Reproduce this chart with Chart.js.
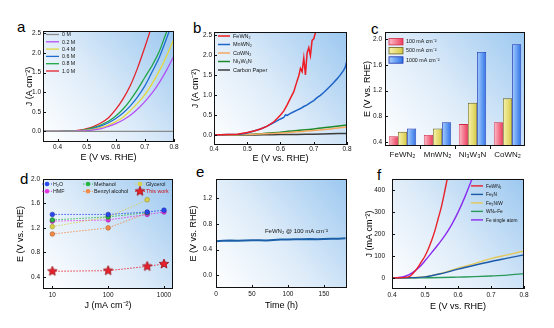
<!DOCTYPE html>
<html>
<head>
<meta charset="utf-8">
<script src="https://cdn.jsdelivr.net/npm/chart.js@4.4.0/dist/chart.umd.min.js"></script>
<style>
  body { margin: 0; background: #fff; }
  #fig { position: relative; width: 554px; height: 328px; overflow: hidden; font-family: "Liberation Sans", Arial, sans-serif; }
  #fig canvas { position: absolute; }
  .tag { position: absolute; font-size: 15px; line-height: 15px; color: #000; }
</style>
</head>
<body>
<div id="fig">
  <div class="tag" style="left:17px;top:19px">a</div>
  <div class="tag" style="left:193px;top:20px">b</div>
  <div class="tag" style="left:371px;top:21px">c</div>
  <div class="tag" style="left:20px;top:171px">d</div>
  <div class="tag" style="left:196px;top:164px">e</div>
  <div class="tag" style="left:377px;top:167px">f</div>
  <canvas id="chartA"></canvas>
  <canvas id="chartB"></canvas>
  <canvas id="chartC"></canvas>
  <canvas id="chartD"></canvas>
  <canvas id="chartE"></canvas>
  <canvas id="chartF"></canvas>
</div>
<script>
// ---- panel a: concentration series ----
const aE = [0.35, 0.40, 0.45, 0.475, 0.50, 0.525, 0.55, 0.575, 0.60, 0.625, 0.65, 0.675, 0.70, 0.725, 0.75, 0.775, 0.80];
const a0M = [0, 0, 0, 0, 0, 0, 0, 0, 0, 0, 0, 0, 0, 0, 0, 0, 0];
const a02M = [0, 0, 0.003, 0.01, 0.02, 0.04, 0.07, 0.13, 0.20, 0.29, 0.41, 0.57, 0.76, 0.98, 1.25, 1.57, 1.93];
const a04M = [0, 0, 0.005, 0.015, 0.03, 0.06, 0.10, 0.16, 0.25, 0.36, 0.53, 0.72, 0.94, 1.22, 1.55, 1.93, 2.36];
const a06M = [0, 0, 0.01, 0.02, 0.04, 0.08, 0.14, 0.22, 0.33, 0.47, 0.65, 0.88, 1.16, 1.52, 1.90, 2.38, 2.90];
const a08M = [0, 0, 0.01, 0.02, 0.05, 0.10, 0.17, 0.26, 0.39, 0.57, 0.80, 1.07, 1.38, 1.68, 2.05, 2.55, 3.00];
const a10M = [0, 0, 0.01, 0.03, 0.07, 0.13, 0.22, 0.35, 0.56, 0.83, 1.17, 1.62, 2.15, 2.72, 3.30, 3.90, 4.50];
const aXTicks = [0.4, 0.5, 0.6, 0.7, 0.8];
const aYTicks = [0, 0.5, 1.0, 1.5, 2.0, 2.5];

// ---- panel b: catalysts ----
const bRedE = [0.40, 0.44, 0.47, 0.50, 0.52, 0.54, 0.56, 0.58, 0.59, 0.60, 0.61, 0.62, 0.63, 0.64, 0.645, 0.65, 0.655, 0.66, 0.665, 0.67, 0.675, 0.68, 0.685, 0.69, 0.695, 0.70, 0.705, 0.71, 0.72];
const bFeWN = [0.00, 0.01, 0.02, 0.06, 0.10, 0.15, 0.22, 0.33, 0.41, 0.50, 0.60, 0.75, 0.92, 1.08, 1.22, 1.35, 1.48, 1.66, 1.58, 1.92, 1.50, 2.05, 2.18, 1.98, 2.36, 2.40, 2.55, 2.62, 2.90];
const bBlueE = [0.40, 0.44, 0.48, 0.50, 0.52, 0.54, 0.56, 0.58, 0.60, 0.61, 0.615, 0.62, 0.63, 0.64, 0.65, 0.66, 0.67, 0.68, 0.69, 0.70, 0.71, 0.72, 0.73, 0.74, 0.75, 0.76, 0.77, 0.78, 0.79, 0.795, 0.80];
const bMnWN = [0.00, 0.01, 0.02, 0.05, 0.10, 0.15, 0.22, 0.31, 0.40, 0.44, 0.50, 0.49, 0.54, 0.58, 0.62, 0.66, 0.71, 0.75, 0.81, 0.86, 0.93, 0.99, 1.06, 1.14, 1.22, 1.31, 1.40, 1.50, 1.62, 1.70, 1.86];
const bE = [0.40, 0.45, 0.50, 0.55, 0.60, 0.65, 0.70, 0.75, 0.80];
const bCoWN = [0, 0, 0.01, 0.03, 0.05, 0.08, 0.11, 0.15, 0.20];
const bNiWN = [0, 0, 0.01, 0.04, 0.07, 0.11, 0.15, 0.20, 0.25];
const bPaper = [0, 0, 0, 0.005, 0.01, 0.015, 0.02, 0.03, 0.04];
const bXTicks = [0.4, 0.5, 0.6, 0.7, 0.8];
const bYTicks = [0, 0.5, 1.0, 1.5, 2.0, 2.5];

// ---- panel c: potentials at fixed current ----
const cCats = ['FeWN₂', 'MnWN₂', 'Ni₃W₃N', 'CoWN₂'];
const c100 = [0.49, 0.51, 0.68, 0.71];
const c500 = [0.56, 0.61, 1.01, 1.08];
const c1000 = [0.61, 0.71, 1.80, 1.92];
const cYTicks = [0.4, 0.8, 1.2, 1.6, 2.0];

// ---- panel d: comparison with other oxidations ----
const dJ = [10, 100, 500, 1000];
const dH2O = [1.42, 1.42, 1.46, 1.49];
const dMethanol = [1.33, 1.38, 1.45];
const dGlycerol = [1.22, 1.38, 1.66];
const dHMF = [1.31, 1.33, 1.42, 1.46];
const dBenzyl = [1.10, 1.20, 1.44];
const dThisWork = [0.49, 0.50, 0.57, 0.61];
const dXTicks = [10, 100, 1000];
const dYTicks = [0.4, 0.8, 1.2, 1.6, 2.0];

// ---- panel e: stability ----
const eT = [0, 10, 20, 30, 40, 50, 60, 70, 80, 90, 100, 110, 120, 130, 140, 150, 160, 170, 180];
const eV = [0.53, 0.535, 0.54, 0.535, 0.54, 0.545, 0.545, 0.54, 0.55, 0.555, 0.555, 0.56, 0.56, 0.565, 0.56, 0.565, 0.57, 0.57, 0.575];
const eXTicks = [0, 50, 100, 150];
const eYTicks = [0, 0.4, 0.8, 1.2];

// ---- panel f: reference catalysts ----
const fRedE = [0.40, 0.42, 0.44, 0.45, 0.46, 0.47, 0.48, 0.49, 0.50, 0.51, 0.52, 0.53, 0.54, 0.55, 0.56, 0.57];
const fFeWN = [0, 1, 3, 5, 15, 32, 52, 75, 100, 132, 170, 215, 270, 325, 395, 470];
const fSaE = [0.40, 0.42, 0.44, 0.46, 0.48, 0.50, 0.52, 0.54, 0.56, 0.58, 0.60, 0.62, 0.64, 0.66];
const fSingle = [0, 2, 8, 22, 45, 78, 115, 152, 192, 240, 298, 365, 440, 520];
const fE = [0.40, 0.45, 0.50, 0.55, 0.60, 0.65, 0.70, 0.75, 0.80];
const fFe2NW = [0, 1, 6, 22, 45, 65, 88, 105, 123];
const fFe3N = [0, 1, 5, 20, 40, 58, 75, 90, 105];
const fWNFe = [0, 0, 1, 2, 4, 6, 9, 13, 20];
const fXTicks = [0.4, 0.5, 0.6, 0.7, 0.8];
const fYTicks = [0, 100, 200, 300, 400];

const FONT = '"Liberation Sans", Arial, sans-serif';
Chart.defaults.font.family = FONT;
Chart.defaults.font.size = 6.5;
Chart.defaults.color = '#111';
Chart.defaults.animation = false;
Chart.defaults.responsive = false;
Chart.defaults.plugins.legend.display = false;
Chart.defaults.plugins.tooltip.enabled = false;
Chart.defaults.elements.point.radius = 0;

const pts = (xs, ys) => ys.map((y, i) => ({ x: xs[i], y }));
const fmt1 = (v) => Number(v).toFixed(1);

// gradient plot background, black frame and inward ticks
const plotBg = {
  id: 'plotBg',
  beforeDraw(chart) {
    const { ctx, chartArea: a } = chart;
    const g = ctx.createLinearGradient(a.left, a.bottom, a.right, a.top);
    g.addColorStop(0, '#ffffff');
    g.addColorStop(0.45, '#deecf9');
    g.addColorStop(1, '#9cc8f0');
    ctx.save();
    ctx.fillStyle = g;
    ctx.fillRect(a.left, a.top, a.right - a.left, a.bottom - a.top);
    ctx.restore();
  },
  afterDraw(chart) {
    const { ctx, chartArea: a, scales } = chart;
    ctx.save();
    ctx.strokeStyle = '#111';
    ctx.lineWidth = 1;
    ctx.strokeRect(Math.round(a.left) + 0.5, Math.round(a.top) + 0.5,
      Math.round(a.right - a.left) - 1, Math.round(a.bottom - a.top) - 1);
    ctx.beginPath();
    const x = scales.x;
    if (x.type === 'category') {
      for (let i = 1; i < chart.data.labels.length; i++) {
        const px = Math.round(x.getPixelForValue(i - 0.5)) + 0.5;
        ctx.moveTo(px, a.bottom); ctx.lineTo(px, a.bottom + 3);
      }
    } else {
      for (const t of x.ticks) {
        const px = Math.round(x.getPixelForValue(t.value)) + 0.5;
        ctx.moveTo(px, a.bottom); ctx.lineTo(px, a.bottom - 3);
      }
    }
    for (const t of scales.y.ticks) {
      const py = Math.round(scales.y.getPixelForValue(t.value)) + 0.5;
      ctx.moveTo(a.left, py); ctx.lineTo(a.left + 3, py);
    }
    ctx.stroke();
    ctx.restore();
  },
};

// small legend drawn inside the plot area
const miniLegend = {
  id: 'miniLegend',
  afterDraw(chart, args, opts) {
    if (!opts || !opts.rows) return;
    const { ctx, chartArea: a } = chart;
    ctx.save();
    ctx.font = `${opts.size || 5.5}px ${FONT}`;
    ctx.textBaseline = 'middle';
    chart.data.datasets.forEach((ds, i) => {
      const nc = opts.cols.length;
      const x = a.left + opts.cols[i % nc];
      const y = a.top + opts.rows[Math.floor(i / nc)];
      const len = opts.len || 12;
      let tx = x + len + 3;
      if (opts.kind === 'box') {
        const g = ctx.createLinearGradient(x, 0, x + len, 0);
        g.addColorStop(0, ds.light); g.addColorStop(1, ds.dark);
        ctx.fillStyle = g;
        ctx.fillRect(x, y - 3.2, len, 6.4);
        ctx.strokeStyle = ds.borderColor; ctx.lineWidth = 0.8;
        ctx.strokeRect(x, y - 3.2, len, 6.4);
      } else if (opts.kind === 'point') {
        ctx.strokeStyle = ds.borderColor; ctx.lineWidth = 1;
        ctx.setLineDash([1.5, 1.5]);
        ctx.beginPath(); ctx.moveTo(x - 5, y); ctx.lineTo(x + 5, y); ctx.stroke();
        ctx.setLineDash([]);
        if (ds.pointStyle instanceof HTMLCanvasElement) {
          const s = ds.pointStyle;
          ctx.drawImage(s, x - s.width / 2, y - s.height / 2);
        } else {
          ctx.fillStyle = ds.backgroundColor;
          ctx.beginPath(); ctx.arc(x, y, 2.3, 0, Math.PI * 2); ctx.fill();
        }
        tx = x + 6;
      } else {
        ctx.strokeStyle = ds.borderColor; ctx.lineWidth = ds.borderWidth || 1.3;
        ctx.beginPath(); ctx.moveTo(x, y); ctx.lineTo(x + len, y); ctx.stroke();
      }
      ctx.fillStyle = ds.legendText || '#111';
      ctx.fillText(ds.label, tx, y + 0.3);
    });
    ctx.restore();
  },
};

function makeStar(r, fill, stroke) {
  const c = document.createElement('canvas');
  c.width = c.height = Math.ceil(r * 2 + 2);
  const ctx = c.getContext('2d');
  const cx = c.width / 2, cy = c.height / 2;
  ctx.beginPath();
  for (let k = 0; k < 10; k++) {
    const rr = k % 2 ? r * 0.45 : r;
    const ang = -Math.PI / 2 + (k * Math.PI) / 5;
    ctx.lineTo(cx + rr * Math.cos(ang), cy + rr * Math.sin(ang));
  }
  ctx.closePath();
  ctx.fillStyle = fill; ctx.fill();
  ctx.strokeStyle = stroke; ctx.lineWidth = 0.8; ctx.stroke();
  return c;
}

function axis(opts) {
  return Object.assign({
    grid: { display: false, drawTicks: false },
    border: { display: false },
  }, opts);
}

// box = canvas [l, t, r, b], plot = chart area [l, t, r, b]
function panel(id, box, plot, config) {
  const cv = document.getElementById(id);
  cv.width = box[2] - box[0];
  cv.height = box[3] - box[1];
  cv.style.left = box[0] + 'px';
  cv.style.top = box[1] + 'px';
  const o = config.options;
  o.layout = { padding: { top: plot[1] - box[1], right: box[2] - plot[2], left: 0, bottom: 0 } };
  o.scales.x.afterFit = (s) => { s.height = box[3] - plot[3]; };
  o.scales.y.afterFit = (s) => { s.width = plot[0] - box[0]; };
  config.plugins = [plotBg, miniLegend].concat(config.plugins || []);
  return new Chart(cv, config);
}

const titleFont = { size: 9 };
const tickSet = (arr) => (s) => { s.ticks = arr.map((v) => ({ value: v })); };

// ---------- a ----------
panel('chartA', [24, 20, 182, 163], [43, 31, 174, 142], {
  type: 'line',
  data: {
    datasets: [
      { label: '0 M', data: pts(aE, a0M), borderColor: '#8a8a8a', borderWidth: 1.3 },
      { label: '0.2 M', data: pts(aE, a02M), borderColor: '#b550f5', borderWidth: 1.3 },
      { label: '0.4 M', data: pts(aE, a04M), borderColor: '#e2d83c', borderWidth: 1.3 },
      { label: '0.6 M', data: pts(aE, a06M), borderColor: '#1f6cd0', borderWidth: 1.3 },
      { label: '0.8 M', data: pts(aE, a08M), borderColor: '#1fa545', borderWidth: 1.3 },
      { label: '1.0 M', data: pts(aE, a10M), borderColor: '#e4232a', borderWidth: 1.3 },
    ],
  },
  options: {
    datasets: { line: { cubicInterpolationMode: 'monotone' } },
    plugins: { miniLegend: { cols: [3], rows: [3.5, 10.8, 18.1, 25.4, 32.7, 40], len: 13, size: 5.3 } },
    scales: {
      x: axis({ type: 'linear', min: 0.35, max: 0.8, afterBuildTicks: tickSet(aXTicks),
        ticks: { padding: 1, callback: fmt1 },
        title: { display: true, text: 'E (V vs. RHE)', font: titleFont, padding: 0, color: '#000' } }),
      y: axis({ min: -0.27, max: 2.56, afterBuildTicks: tickSet(aYTicks),
        ticks: { padding: 2, callback: fmt1 },
        title: { display: true, text: 'J (A cm⁻²)', font: titleFont, padding: 0, color: '#000' } }),
    },
  },
});

// ---------- b ----------
panel('chartB', [190, 20, 355, 164], [214, 32, 347, 145], {
  type: 'line',
  data: {
    datasets: [
      { label: 'FeWN₂', data: pts(bRedE, bFeWN), borderColor: '#ee1c24', borderWidth: 1.5, tension: 0 },
      { label: 'MnWN₂', data: pts(bBlueE, bMnWN), borderColor: '#1e64c8', borderWidth: 1.5, tension: 0 },
      { label: 'CoWN₂', data: pts(bE, bCoWN), borderColor: '#f5a860', borderWidth: 1.5, tension: 0.3 },
      { label: 'Ni₃W₃N', data: pts(bE, bNiWN), borderColor: '#1c8a2c', borderWidth: 1.5, tension: 0.3 },
      { label: 'Carbon Paper', data: pts(bE, bPaper), borderColor: '#3c3c3c', borderWidth: 1.5, tension: 0.3 },
    ],
  },
  options: {
    plugins: { miniLegend: { cols: [4], rows: [4, 12.5, 21, 29.5, 38], len: 12, size: 5.5 } },
    scales: {
      x: axis({ type: 'linear', min: 0.4, max: 0.8, afterBuildTicks: tickSet(bXTicks),
        ticks: { padding: 0, callback: fmt1 },
        title: { display: true, text: 'E (V vs. RHE)', font: titleFont, padding: 0, color: '#000' } }),
      y: axis({ min: -0.25, max: 2.57, afterBuildTicks: tickSet(bYTicks),
        ticks: { padding: 2, callback: fmt1 },
        title: { display: true, text: 'J (A cm⁻²)', font: titleFont, padding: 0, color: '#000' } }),
    },
  },
});

// ---------- c ----------
const C_CAT_PCT = 0.78;
function barFill(context) {
  const chart = context.chart;
  const ds = chart.data.datasets[context.datasetIndex];
  const x = chart.scales.x;
  if (!x || context.dataIndex === undefined || !(x.width > 0)) return ds.dark;
  const n = chart.data.datasets.length;
  const groupW = (x.width / chart.data.labels.length) * C_CAT_PCT;
  const barW = groupW / n;
  const x0 = x.getPixelForValue(context.dataIndex) - groupW / 2 + context.datasetIndex * barW;
  if (!Number.isFinite(x0) || !Number.isFinite(barW)) return ds.dark;
  const g = chart.ctx.createLinearGradient(x0, 0, x0 + barW, 0);
  g.addColorStop(0, ds.light);
  g.addColorStop(1, ds.dark);
  return g;
}
panel('chartC', [362, 20, 533, 162], [385, 32, 525, 146], {
  type: 'bar',
  data: {
    labels: cCats,
    datasets: [
      { label: '100 mA cm⁻²', data: c100, light: '#fcc0cb', dark: '#ec3d5c', borderColor: '#cf2845' },
      { label: '500 mA cm⁻²', data: c500, light: '#f8f4b0', dark: '#d6c944', borderColor: '#6b6322' },
      { label: '1000 mA cm⁻²', data: c1000, light: '#a6d0ff', dark: '#2f72e6', borderColor: '#1b2fae' },
    ],
  },
  options: {
    datasets: { bar: { categoryPercentage: C_CAT_PCT, barPercentage: 1.0, borderWidth: 0.8, backgroundColor: barFill } },
    plugins: { miniLegend: { kind: 'box', cols: [4], rows: [9.7, 18.7, 28], len: 14, size: 5.3 } },
    scales: {
      x: axis({ type: 'category', ticks: { padding: 4, font: { size: 8 }, color: '#111' } }),
      y: axis({ min: 0.34, max: 2.11, afterBuildTicks: tickSet(cYTicks),
        ticks: { padding: 3, callback: fmt1 },
        title: { display: true, text: 'E (V vs. RHE)', font: titleFont, padding: 0, color: '#000' } }),
    },
  },
});

// ---------- d ----------
const dStar = makeStar(5, '#e8202a', '#9a1018');
const dotted = { borderWidth: 0.9, borderDash: [1.5, 1.5], pointRadius: 2.3, pointBorderWidth: 0.6 };
panel('chartD', [15, 168, 181, 311], [43, 179, 173, 289], {
  type: 'line',
  data: {
    datasets: [
      Object.assign({ label: 'H₂O', data: pts(dJ, dH2O), borderColor: '#2a48f0', backgroundColor: '#2a48f0', pointBorderColor: '#1a2aa0' }, dotted),
      Object.assign({ label: 'Methanol', data: pts(dJ, dMethanol), borderColor: '#28b444', backgroundColor: '#28b444', pointBorderColor: '#187a2a' }, dotted),
      Object.assign({ label: 'Glycerol', data: pts(dJ, dGlycerol), borderColor: '#d8d04a', backgroundColor: '#d8d04a', pointBorderColor: '#9a9020' }, dotted),
      Object.assign({ label: 'HMF', data: pts(dJ, dHMF), borderColor: '#e036e0', backgroundColor: '#e036e0', pointBorderColor: '#a020a0' }, dotted),
      Object.assign({ label: 'Benzyl alcohol', data: pts(dJ, dBenzyl), borderColor: '#f08c48', backgroundColor: '#f08c48', pointBorderColor: '#b05a20' }, dotted),
      Object.assign({}, dotted, { label: 'This work', data: pts(dJ, dThisWork), borderColor: '#e8202a', backgroundColor: '#e8202a',
        pointStyle: dStar, pointRadius: 5, legendText: '#d0101a' }),
    ],
  },
  options: {
    plugins: { miniLegend: { kind: 'point', cols: [4, 45, 97], rows: [5, 12.3], size: 5.3 } },
    scales: {
      x: axis({ type: 'logarithmic', min: 6.8, max: 1450, afterBuildTicks: tickSet(dXTicks),
        ticks: { padding: 2, callback: (v) => String(v) },
        title: { display: true, text: 'J (mA cm⁻²)', font: titleFont, padding: 0, color: '#000' } }),
      y: axis({ min: 0.2, max: 2.0, afterBuildTicks: tickSet(dYTicks),
        ticks: { padding: 3, callback: fmt1 },
        title: { display: true, text: 'E (V vs. RHE)', font: titleFont, padding: 0, color: '#000' } }),
    },
  },
});

// ---------- e ----------
const eNote = {
  id: 'eNote',
  afterDatasetsDraw(chart) {
    const { ctx, scales } = chart;
    ctx.save();
    ctx.font = `6px ${FONT}`;
    ctx.fillStyle = '#111';
    ctx.textBaseline = 'alphabetic';
    ctx.fillText('FeWN₂ @ 100 mA cm⁻²', scales.x.getPixelForValue(68), scales.y.getPixelForValue(0.66));
    ctx.restore();
  },
};
panel('chartE', [188, 168, 355, 311], [216, 179, 347, 288], {
  type: 'line',
  data: {
    datasets: [
      { label: 'FeWN₂', data: pts(eT, eV), borderColor: '#1a5fa8', borderWidth: 2, tension: 0 },
    ],
  },
  plugins: [eNote],
  options: {
    scales: {
      x: axis({ type: 'linear', min: 0, max: 182, afterBuildTicks: tickSet(eXTicks),
        ticks: { padding: 2 },
        title: { display: true, text: 'Time (h)', font: titleFont, padding: 0, color: '#000' } }),
      y: axis({ min: -0.2, max: 1.5, afterBuildTicks: tickSet(eYTicks),
        ticks: { padding: 4, callback: fmt1 },
        title: { display: true, text: 'E (V vs. RHE)', font: titleFont, padding: 0, color: '#000' } }),
    },
  },
});

// ---------- f ----------
panel('chartF', [364, 168, 532, 312], [392, 178, 524, 289], {
  type: 'line',
  data: {
    datasets: [
      { label: 'FeWN₂', data: pts(fRedE, fFeWN), borderColor: '#e8202a', borderWidth: 1.4 },
      { label: 'Fe₃N', data: pts(fE, fFe3N), borderColor: '#1c5aa8', borderWidth: 1.4 },
      { label: 'Fe₂N/W', data: pts(fE, fFe2NW), borderColor: '#e4c85a', borderWidth: 1.4 },
      { label: 'WNₓ-Fe', data: pts(fE, fWNFe), borderColor: '#2a9a5a', borderWidth: 1.4 },
      { label: 'Fe single atom', data: pts(fSaE, fSingle), borderColor: '#8a2cf0', borderWidth: 1.4 },
    ],
  },
  options: {
    datasets: { line: { cubicInterpolationMode: 'monotone' } },
    plugins: { miniLegend: { cols: [79], rows: [7, 15.5, 24, 32.5, 41], len: 12, size: 4.8 } },
    scales: {
      x: axis({ type: 'linear', min: 0.4, max: 0.8, afterBuildTicks: tickSet(fXTicks),
        ticks: { padding: 2, callback: fmt1 },
        title: { display: true, text: 'E (V vs. RHE)', font: titleFont, padding: 0, color: '#000' } }),
      y: axis({ min: -50, max: 450, afterBuildTicks: tickSet(fYTicks),
        ticks: { padding: 7 },
        title: { display: true, text: 'J (mA cm⁻²)', font: titleFont, padding: 0, color: '#000' } }),
    },
  },
});
</script>
</body>
</html>
